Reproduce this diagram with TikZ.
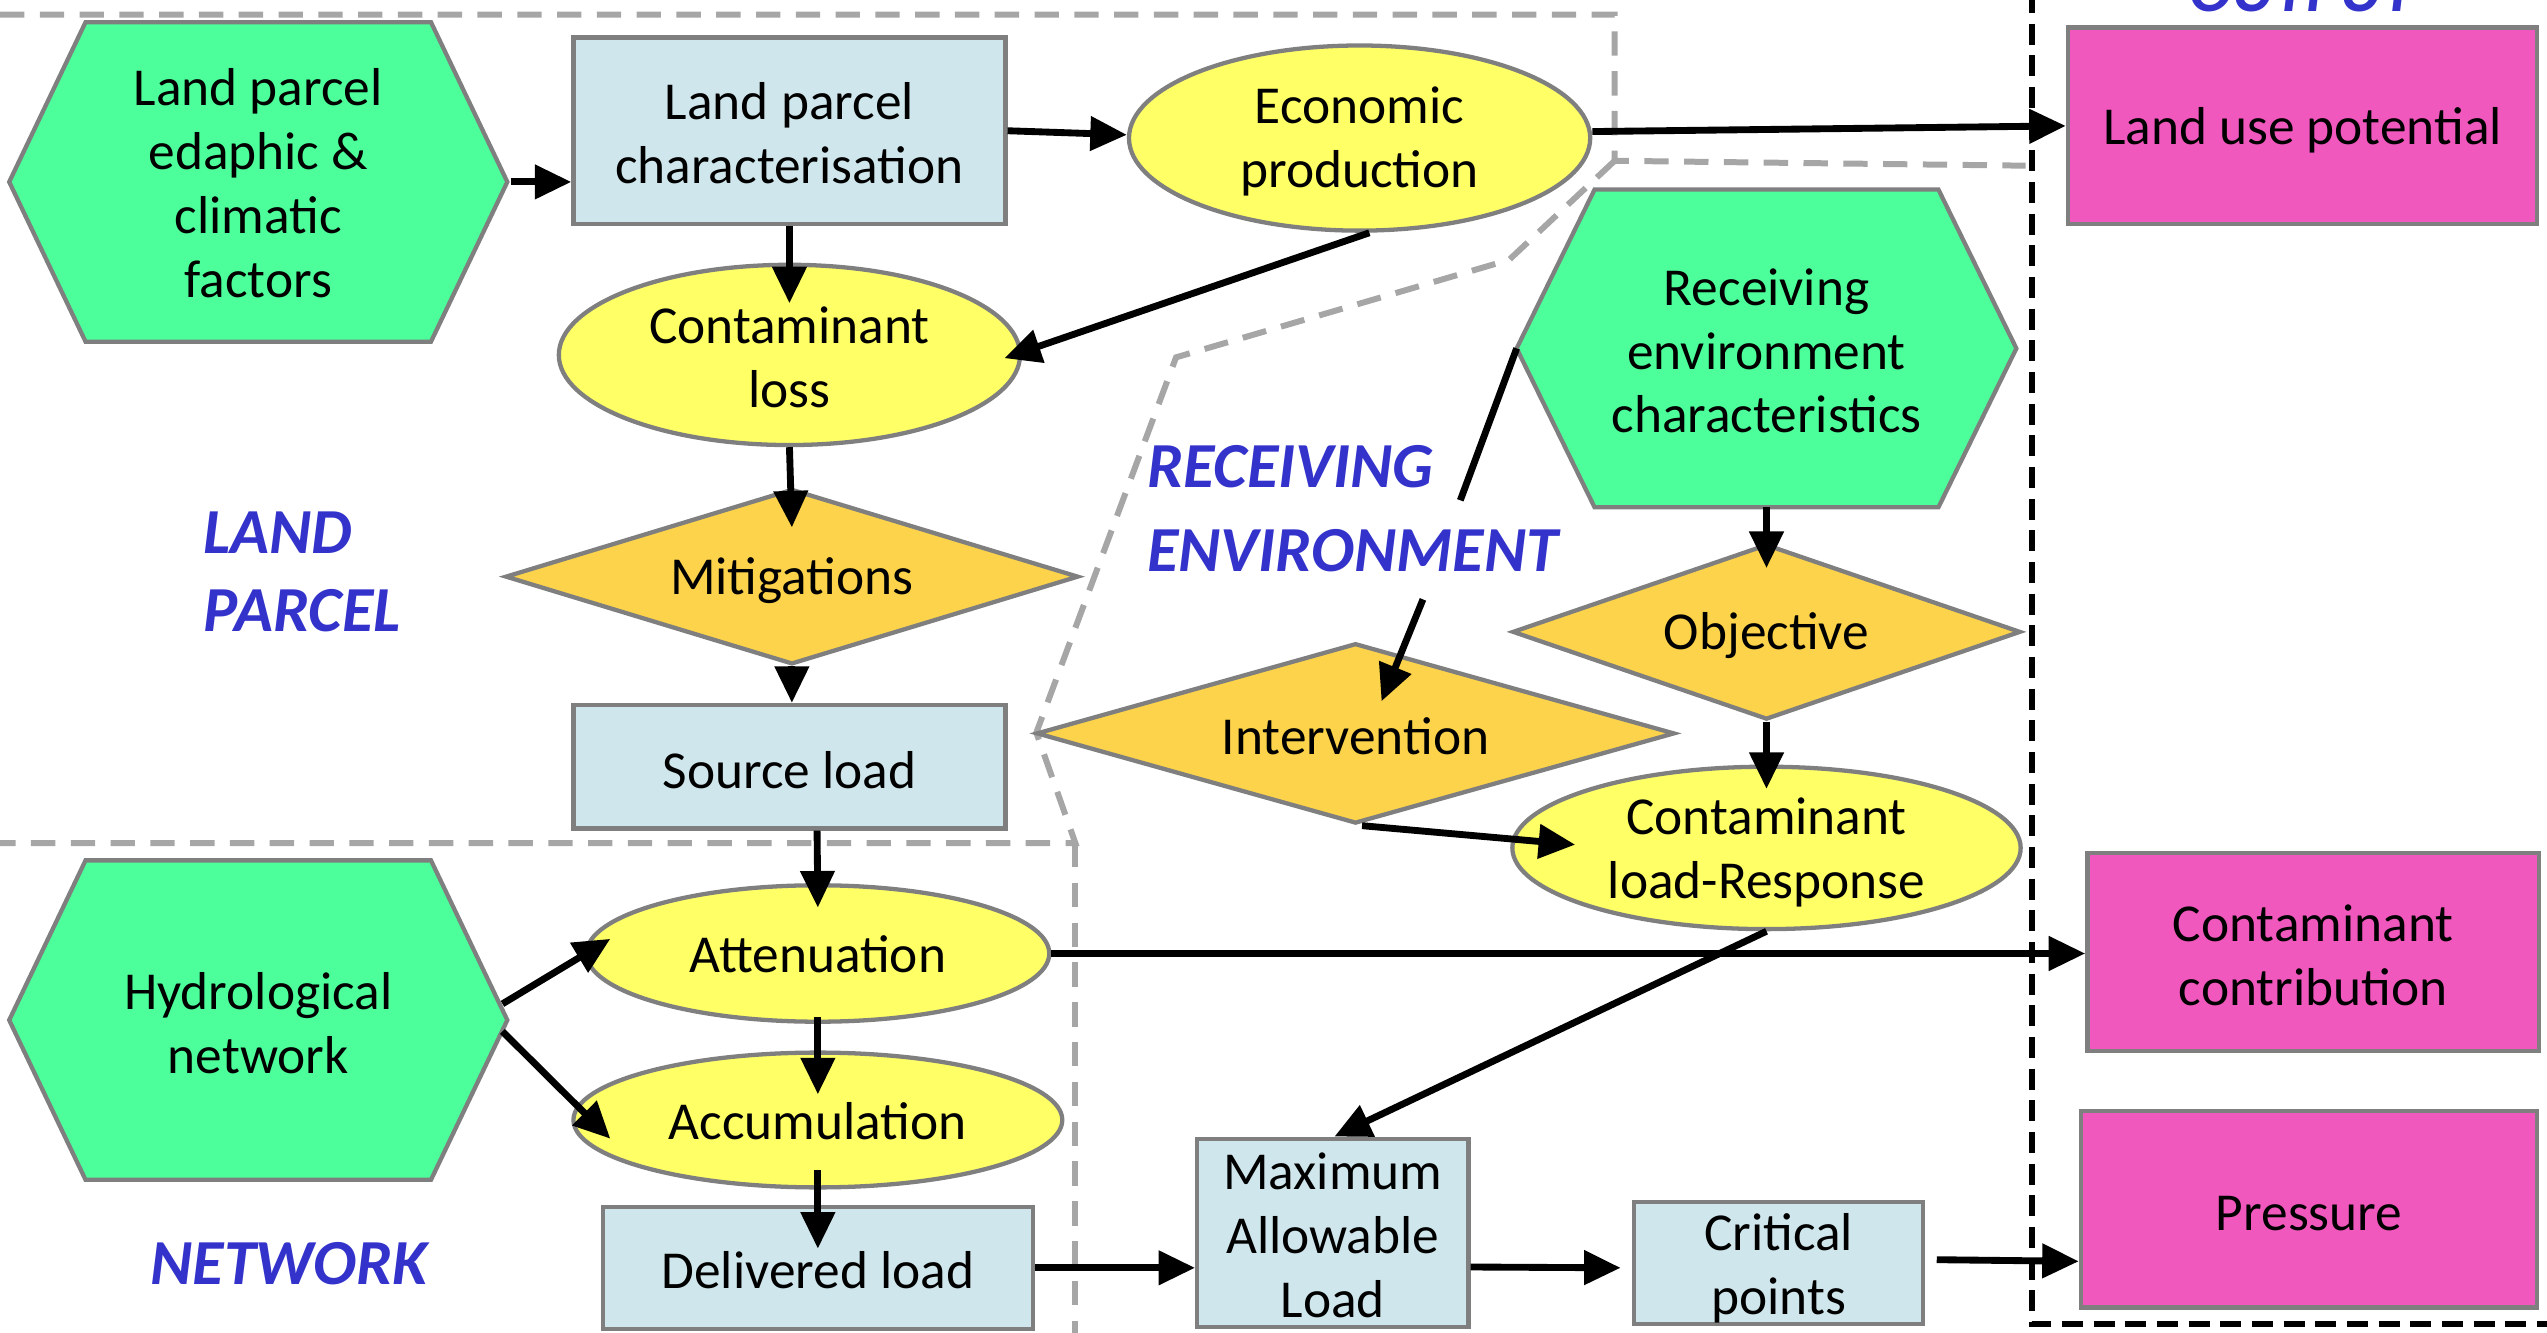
\documentclass[tikz,border=0pt]{standalone}
\usepackage{fontspec}
\setmainfont{Carlito}
\usetikzlibrary{shapes.geometric,arrows.meta,calc}
\definecolor{bordergray}{HTML}{7F7F7F}
\definecolor{dashgray}{HTML}{A6A6A6}
\definecolor{boxblue}{HTML}{CFE7EC}
\definecolor{ellyellow}{HTML}{FFFF66}
\definecolor{hexgreen}{HTML}{4CFF9A}
\definecolor{diaorange}{HTML}{FCD34A}
\definecolor{outpink}{HTML}{F158BE}
\definecolor{lblblue}{HTML}{3333CC}
\newcommand\bodyfont{\fontsize{18.7pt}{22.4pt}\selectfont}
\newcommand\lblfont{\fontsize{22.5pt}{27.3pt}\selectfont\bfseries\itshape}
\tikzset{
  base/.style={draw=bordergray, line width=1.5pt, inner sep=0pt},
  boxn/.style={base, rectangle, fill=boxblue},
  outn/.style={base, rectangle, fill=outpink},
  elln/.style={base, ellipse, fill=ellyellow},
  dian/.style={base, diamond, fill=diaorange},
  hexbox/.style={rectangle, inner sep=0pt},
  hexs/.style={draw=bordergray, line width=1.5pt, fill=hexgreen, line join=miter},
  txtn/.style={align=center, font=\bodyfont, inner sep=0pt},
  lbl/.style={font=\lblfont, text=lblblue, align=left, inner sep=0pt},
  arr/.style={-{Triangle[length=0.45cm,width=0.41cm]}, line width=2.4pt, black},
  plainline/.style={line width=2.4pt, black},
  regline/.style={draw=dashgray, line width=2.1pt, dash pattern=on 0.30cm off 0.19cm},
  outframe/.style={black, line width=2.1pt, dash pattern=on 0.26cm off 0.13cm},
}
% shape node (name #2) at #3, with its text node (#2t) shifted down by #4
\newcommand\shp[5]{\node[#1] (#2) at (#3) {}; \node[txtn] (#2t) at ($(#2)+(0,#4)$) {#5};}
\begin{document}
\begin{tikzpicture}[x=0.02cm,y=-0.02cm]
\useasboundingbox (0,0) rectangle (1568,820.6);

% region boundaries
\draw[regline] (0,9) -- (994,9) -- (994,99) -- (1247,102);
\draw[regline] (994,99) -- (929,160) -- (724,220) -- (638,451) -- (662,519) -- (0,519);
\draw[regline] (662,519) -- (662,822);
\draw[outframe] (1251,-5) -- (1251,815) -- (1572,815);

% hexagons
\node[hexbox, minimum width=4.24cm, minimum height=3.92cm] (h1) at (159,112) {};
\path[hexs] (h1.north west) -- (h1.north east) -- ($(h1.east)+(47,0)$) -- (h1.south east) -- (h1.south west) -- ($(h1.west)+(-47,0)$) -- cycle;
\node[txtn] (h1t) at (159,113) {Land parcel\\edaphic \&\\climatic\\factors};

\node[hexbox, minimum width=4.22cm, minimum height=3.90cm] (rec) at (1087.5,214.5) {};
\path[hexs] (rec.north west) -- (rec.north east) -- ($(rec.east)+(48,0)$) -- (rec.south east) -- (rec.south west) -- ($(rec.west)+(-48,0)$) -- cycle;
\node[txtn] (rect) at (1087.5,216) {Receiving\\environment\\characteristics};

\node[hexbox, minimum width=4.24cm, minimum height=3.92cm] (hyd) at (159,628) {};
\path[hexs] (hyd.north west) -- (hyd.north east) -- ($(hyd.east)+(47,0)$) -- (hyd.south east) -- (hyd.south west) -- ($(hyd.west)+(-47,0)$) -- cycle;
\node[txtn] (hydt) at (159,630) {Hydrological\\network};

% boxes
\shp{boxn, minimum width=5.32cm, minimum height=2.30cm}{lpc}{486,80.5}{1.5}{Land parcel\\characterisation}
\shp{boxn, minimum width=5.32cm, minimum height=1.52cm}{srcl}{486,472}{2}{Source load}
\shp{boxn, minimum width=5.30cm, minimum height=1.50cm}{dl}{503.5,780.5}{1.5}{Delivered load}
\shp{boxn, minimum width=3.34cm, minimum height=2.32cm}{mal}{820.5,759}{1.5}{Maximum\\Allowable\\Load}
\shp{boxn, minimum width=3.56cm, minimum height=1.50cm}{cp}{1095,777.5}{3}{Critical\\points}

% outputs
\shp{outn, minimum width=5.78cm, minimum height=2.42cm}{lup}{1417.5,77.5}{2.5}{Land use potential}
\shp{outn, minimum width=5.56cm, minimum height=2.44cm}{cc}{1424,586}{2}{Contaminant\\contribution}
\shp{outn, minimum width=5.62cm, minimum height=2.42cm}{pres}{1421.5,744.5}{2.5}{Pressure}

% ellipses
\shp{elln, minimum width=5.68cm, minimum height=2.28cm}{econ}{837,85}{2}{Economic\\production}
\shp{elln, minimum width=5.68cm, minimum height=2.22cm}{closs}{486,218.5}{1.5}{Contaminant\\loss}
\shp{elln, minimum width=5.70cm, minimum height=1.68cm}{att}{503.5,587}{0.5}{Attenuation}
\shp{elln, minimum width=6.02cm, minimum height=1.66cm}{acc}{503.5,689.5}{0.5}{Accumulation}
\shp{elln, minimum width=6.26cm, minimum height=2.00cm}{clr}{1087.5,522}{3}{Contaminant\\load-Response}

% diamonds
\shp{dian, aspect=3.27, minimum width=7.06cm, minimum height=2.16cm}{mit}{487.5,355}{2.5}{Mitigations}
\shp{dian, aspect=2.9, minimum width=6.26cm, minimum height=2.16cm}{obj}{1087.5,389}{2.5}{Objective}
\shp{dian, aspect=3.54, minimum width=7.86cm, minimum height=2.22cm}{int}{834.5,451.5}{1.5}{Intervention}

% labels
\node[lbl, anchor=west] (lland) at (125,352) {LAND\\PARCEL};
\node[lbl, anchor=west, font=\fontsize{22.5pt}{29.5pt}\selectfont\bfseries\itshape] (lrec) at (706,313) {RECEIVING\\ENVIRONMENT};
\node[lbl] (lnet) at (178,778) {NETWORK};
\node[lbl, anchor=base] (lout) at (1417,7) {OUTPUT};

% connectors
\draw[arr] ($(h1.east)+(49,0)$) -- (lpc.west |- h1.east);
\draw[arr] (lpc.east) -- ($(econ.west)+(0,-2)$);
\draw[arr] ($(econ.east)+(0,-4)$) -- (lup.west);
\draw[arr] (lpc.south) -- ($(closs.north)+(0,25)$);
\draw[arr] ($(econ.south)+(6,0)$) -- ($(closs.east)+(-11,2)$);
\draw[arr] (closs.south) -- ($(mit.north)+(0,25)$);
\draw[arr] (mit.south) -- (srcl.north -| mit.south);
\draw[arr] ($(srcl.south)+(17,0)$) -- ($(att.north)+(0,15)$);
\draw[arr] ($(att.south)+(0,-4)$) -- ($(acc.north)+(0,27)$);
\draw[arr] ($(acc.south)+(0,-12)$) -- ($(dl.north)+(0,27)$);
\draw[arr] ($(hyd.east)+(44,-10)$) -- ($(att.west)+(16,-9)$);
\draw[arr] ($(hyd.east)+(44,7)$) -- ($(acc.west)+(24,11.5)$);
\draw[arr] (att.east) -- (cc.west |- att.east);
\draw[arr] (dl.east) -- (mal.west |- dl.east);
\draw[arr] ($(mal.east)+(0,21)$) -- ($(cp.west)+(-7,3)$);
\draw[arr] ($(cp.east)+(7,-2)$) -- ($(pres.west)+(0,32)$);
\draw[arr] (clr.south) -- ($(mal.north)+(1,0)$);
\coordinate (g1) at (899,308);
\coordinate (g2) at (876,369);
\draw[plainline] ($(rec.west)+(-48,0)$) -- (g1);
\draw[arr] (g2) -- ($(int.north)+(16,37)$);
\draw[arr] (rec.south) -- ($(obj.north)+(0,16)$);
\draw[arr] (obj.south) -- ($(clr.north)+(0,15)$);
\draw[arr] ($(int.south)+(4,0)$) -- ($(clr.west)+(40,-2)$);
\end{tikzpicture}
\end{document}
